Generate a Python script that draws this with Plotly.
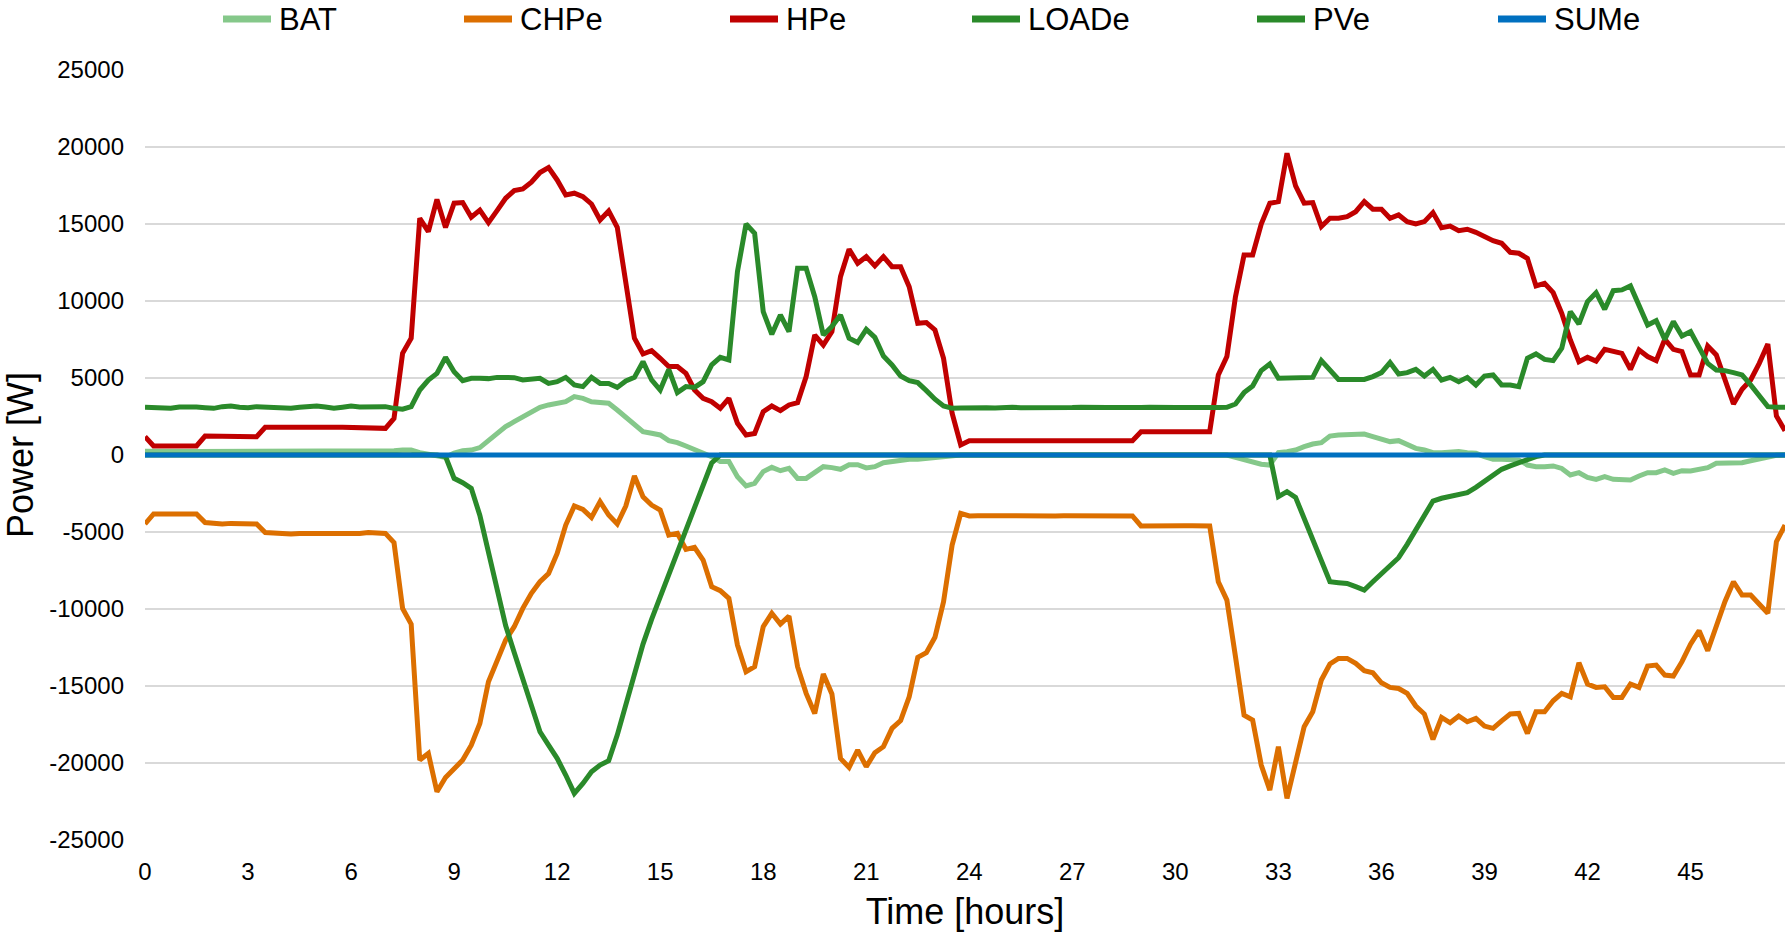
import plotly.graph_objects as go

# ---- data: 15-minute power profile over 48 hours (W) ----
STEPS_PER_HOUR = 4
N_STEPS = 192

series_names = ["BAT", "CHPe", "HPe", "LOADe", "PVe", "SUMe"]
series_colors = ["#85c88a", "#dc6f00", "#c00000", "#2a8a2a", "#2a8a2a", "#0070c0"]

bat = (
    [250, 230, 230, 230, 220, 220, 230, 230, 240, 240, 230, 230, 220, 230,
     230, 240, 230, 230, 220, 230, 240, 240, 230, 220, 230, 240, 250, 240]
    + [250, 280, 320, 320, 150, 80, -50, -150, 120, 280, 320, 480,
       930, 1400, 1840, 2165, 2490, 2810, 3100, 3250, 3350, 3460, 3790, 3680,
       3460, 3420, 3360, 2920, 2450, 1950, 1520, 1410, 1300, 930, 800, 585,
       370, 150, -110, -430, -430, -1410, -2010, -1840, -1080, -800, -1020, -870,
       -1520, -1520, -1150, -760, -820, -930, -630, -630, -840, -760, -500, -410,
       -320, -280, -280, -220, -150, -60]
    + [0] * 33
    + [-150, -300, -450, -600, -650,
       150, 220, 325, 540, 715, 800, 1230, 1300, 1300, 1320, 1360, 1190,
       1020, 870, 930, 650, 430, 325, 150, 150, 220, 220, 150, 110,
       -110, -280, -280, -280, -320, -650, -760, -760, -710, -870, -1300, -1150,
       -1450, -1580, -1410, -1580, -1600, -1620, -1360, -1150, -1150, -970, -1190, -1020,
       -1040, -930, -820, -540, -540, -520, -500, -370, -240, -110, -20, 0]
)

chpe = (
    [-4480, -3830, -3830, -3790, -3830, -3830, -3830,
     -4390, -4440, -4480, -4440, -4440, -4480, -4480,
     -5040, -5090, -5090, -5130, -5090, -5090, -5130, -5130, -5090, -5090,
     -5130, -5090, -5040, -5090, -5090]
    + [-5690, -9960, -10980, -19810, -19380, -21870, -20940, -20420, -19810, -18840,
       -17430, -14720, -13420, -12020, -11150, -9960, -8980, -8230, -7690, -6390,
       -4550, -3310, -3530, -4050, -3030, -3900, -4480, -3310, -1360, -2710,
       -3250, -3570, -5200, -5090, -6130, -6000, -6820, -8550, -8810, -9310,
       -12340, -14070, -13750, -11150, -10280, -10980, -10460, -13750, -15480, -16780,
       -14220, -15520, -19700, -20290, -19160, -20240, -19330, -18940, -17750, -17250,
       -15700, -13140, -12840, -11840, -9530, -5850, -3790]
    + [-3960, -3940, -3950, -3960, -3950, -3940, -3950, -3960, -3950, -3940,
       -3960, -3950, -3950, -3960, -3950, -3940, -3950, -3960, -3950, -3960]
    + [-4610, -4590, -4600, -4610, -4600, -4590, -4600, -4610, -4610]
    + [-8230, -9420, -13100, -16890, -17210, -20130, -21760, -18940, -22300, -20030,
       -17640, -16670, -14610, -13570, -13210, -13210, -13530, -14010, -14140, -14790,
       -15090, -15160, -15480, -16300, -16820, -18470, -17040, -17390, -16950, -17320,
       -17100, -17600, -17750, -17260, -16820, -16780, -18080, -16670, -16670, -15960,
       -15480, -15700, -13490, -14870, -15090, -15050, -15740, -15740, -14870, -15090,
       -13700, -13640, -14290, -14350, -13420, -12280, -11410, -12710, -11150, -9530,
       -8230, -9090, -9090, -9740, -10280, -5630, -4550]
)

hpe = (
    [1190, 585, 585, 590, 585, 580, 585,
     1230, 1230, 1240, 1250, 1250, 1240, 1190,
     1800, 1790, 1790, 1800, 1810, 1800, 1790, 1790, 1800, 1810, 1790, 1780,
     1780, 1790, 1730]
    + [2380, 6600, 7580, 15370, 14500, 16600, 14770, 16350, 16390, 15440,
       15900, 15090, 15870, 16670, 17170, 17280, 17710, 18340, 18660, 17860,
       16890, 17000, 16780, 16300, 15260, 15850, 14790, 11200, 7580, 6560,
       6780, 6280, 5740, 5740, 5300, 4220, 3680, 3460, 3030, 3680,
       2060, 1300, 1400, 2810, 3180, 2880, 3250, 3400, 5090, 7790,
       7140, 8010, 11580, 13360, 12450, 12880, 12280, 12880, 12230, 12230,
       10930, 8550, 8600, 8120, 6280, 2710, 650]
    + [930] * 20
    + [1515] * 9
    + [5200, 6390, 10280, 12990, 12990, 15000, 16350, 16450, 19590, 17470,
       16350, 16390, 14830, 15370, 15370, 15480, 15800, 16450, 15960, 15960,
       15370, 15590, 15155, 15000, 15155, 15740, 14765, 14870, 14570, 14660,
       14460, 14180, 13920, 13750, 13160, 13100, 12770, 10980, 11150, 10540,
       9200, 7470, 6060, 6340, 6100, 6860, 6710, 6600, 5560, 6820,
       6390, 6130, 7510, 6860, 6710, 5200, 5200, 7080, 6500, 4870,
       3310, 4270, 4870, 5950, 7210, 2530, 1580]
)

loade = (
    [3100, 3100, 3070, 3030, 3120, 3140, 3120, 3070, 3030, 3140,
     3180, 3100, 3070, 3140, 3120, 3140, 3100, 3030, 3100, 3140,
     3180, 3120, 3030, 3100, 3180, 3120, 3120, 3140, 3140]
    + [3030, 2970, 3140, 4220, 4870, 5300, 6340, 5410, 4830, 4980,
       4980, 4960, 5040, 5040, 5020, 4870, 4910, 4980, 4650, 4760,
       5040, 4550, 4440, 5040, 4650, 4650, 4390, 4810, 5040, 6060,
       4870, 4220, 5560, 4050, 4440, 4390, 4760, 5850, 6340, 6170,
       11910, 15000, 14400, 9310, 7840, 9090, 8010, 12120, 12120, 10280,
       7790, 8340, 9090, 7580, 7300, 8160, 7640, 6430, 5850, 5130,
       4830, 4700, 4180, 3620, 3180]
    + [3030, 3060, 3080, 3100, 3070, 3050, 3090, 3100, 3070, 3060, 3090,
       3100, 3060, 3050, 3080, 3100, 3070, 3060, 3090, 3080, 3060, 3070,
       3090, 3100, 3070, 3060, 3080, 3090, 3070, 3060, 3080, 3090, 3100]
    + [3310, 4050, 4480, 5480, 5910, 4980, 4980, 4980, 5020, 5040,
       6130, 5480, 4910, 4910, 4910, 4910, 5090, 5350, 6000, 5260,
       5350, 5560, 5130, 5560, 4870, 5040, 4760, 5040, 4550, 5130,
       5200, 4550, 4550, 4440, 6280, 6560, 6210, 6130, 6930, 9310,
       8510, 9960, 10540, 9460, 10670, 10720, 10980, 9640, 8440, 8720,
       7510, 8660, 7730, 8010, 6930, 5950, 5520, 5480, 5350, 5200,
       4550, 3830, 3140, 3100, 3100]
)

pve = (
    [0] * 35
    + [-100, -1515, -1800, -2165, -3920, -6300, -8700, -11080, -12820, -14530,
       -16240, -17970, -18840, -19700, -20780, -21970, -21330, -20570, -20130, -19850,
       -18190, -16190, -14180, -12280, -10670, -9200, -7730, -6320, -4850, -3400,
       -1930, -520]
    + [0] * 65
    + [-2700, -2380, -2750, -4130, -5520, -6840, -8230, -8290, -8340, -8550,
       -8770, -8230, -7690, -7190, -6670, -5800, -4890, -4010, -2990, -2810,
       -2710, -2550, -2450, -2100, -1710, -1320, -930, -710, -500, -280, -100]
    + [0] * 29
)

sume = [0] * N_STEPS

series_values = [bat, chpe, hpe, loade, pve, sume]
for name, vals in zip(series_names, series_values):
    assert len(vals) == N_STEPS, (name, len(vals))

hours = [i / STEPS_PER_HOUR for i in range(N_STEPS)]

x_tick_vals = list(range(0, 48, 3))
x_tick_text = [str(v) for v in x_tick_vals]
y_tick_vals = list(range(-25000, 25001, 5000))
y_tick_text = [str(v) for v in y_tick_vals]

# ---- layout constants (pixels) ----
W, H = 1789, 933
M_L, M_R, M_T, M_B = 145, 4, 70, 93
FONT = "Liberation Sans, Arial, sans-serif"
plot_w = W - M_L - M_R
plot_h = H - M_T - M_B

fig = go.Figure()
for name, color, vals in zip(series_names, series_colors, series_values):
    fig.add_trace(go.Scatter(
        x=hours, y=vals, name=name, mode="lines",
        line=dict(color=color, width=5),
        showlegend=False,
    ))

# legend row along the top: coloured stroke followed by the series name
legend_x_px = [220, 461, 727, 969, 1254, 1495]
legend_y_px = 19
sample_len = 54

def px_to_paper_x(px):
    return (px - M_L) / plot_w

def px_to_paper_y(py):
    return (H - M_B - py) / plot_h

shapes = []
annotations = []
for name, color, lx in zip(series_names, series_colors, legend_x_px):
    yy = px_to_paper_y(legend_y_px)
    shapes.append(dict(
        type="line", xref="paper", yref="paper",
        x0=px_to_paper_x(lx + 3), x1=px_to_paper_x(lx + sample_len - 3),
        y0=yy, y1=yy, line=dict(color=color, width=7),
    ))
    annotations.append(dict(
        text=name, xref="paper", yref="paper",
        x=px_to_paper_x(lx + sample_len + 3), y=yy,
        xanchor="left", yanchor="middle", showarrow=False,
        font=dict(family=FONT, size=31, color="#000000"),
    ))

fig.update_layout(
    width=W, height=H,
    margin=dict(l=M_L, r=M_R, t=M_T, b=M_B, autoexpand=False),
    paper_bgcolor="white", plot_bgcolor="white",
    font=dict(family=FONT, color="#000000"),
    showlegend=False,
    shapes=shapes,
    annotations=annotations,
    xaxis=dict(
        range=[0, hours[-1]],
        tickvals=x_tick_vals, ticktext=x_tick_text,
        tickfont=dict(size=24, color="#000000"),
        showgrid=False, zeroline=False, showline=False, ticks="",
        ticklabelstandoff=15,
        title=dict(text="Time [hours]", font=dict(size=36, color="#000000"), standoff=14),
        automargin=False,
    ),
    yaxis=dict(
        range=[-25000, 25000],
        tickvals=y_tick_vals, ticktext=y_tick_text,
        tickfont=dict(size=24, color="#000000"),
        showgrid=True, gridcolor="#d9d9d9", gridwidth=2,
        zeroline=False, showline=False, ticks="",
        ticklabelstandoff=20,
        title=dict(text="Power [W]", font=dict(size=36, color="#000000"), standoff=10),
        automargin=False,
    ),
)

fig.write_html("out.html")
